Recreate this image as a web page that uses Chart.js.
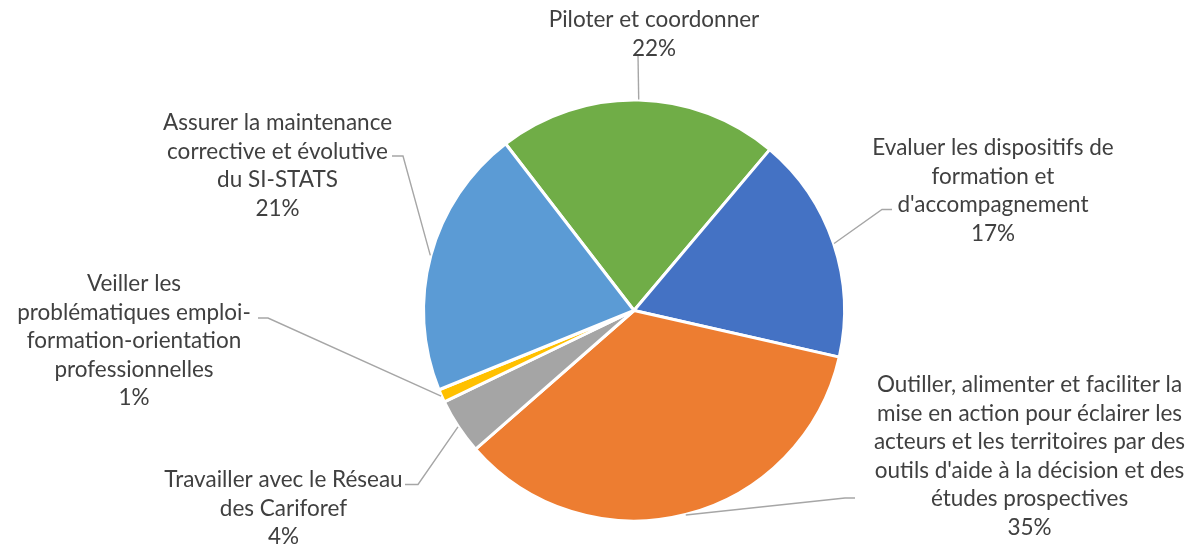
<!DOCTYPE html>
<html>
<head>
<meta charset="utf-8">
<script src="https://cdn.jsdelivr.net/npm/chart.js@4.4.1/dist/chart.umd.min.js"></script>
<style>
  html, body { margin: 0; padding: 0; background: #ffffff; }
  #wrap { width: 1191px; height: 548px; }
</style>
</head>
<body>
<div id="wrap"><canvas id="c" width="1191" height="548"></canvas></div>
<script>
// ---- Data ----
const categories = [
  ["Piloter et coordonner"],
  ["Evaluer les dispositifs de", "formation et", "d'accompagnement"],
  ["Outiller, alimenter et faciliter la", "mise en action pour éclairer les", "acteurs et les territoires par des", "outils d'aide à la décision et des", "études prospectives"],
  ["Travailler avec le Réseau", "des Cariforef"],
  ["Veiller les", "problématiques emploi-", "formation-orientation", "professionnelles"],
  ["Assurer la maintenance", "corrective et évolutive", "du SI-STATS"]
];
const shares = [21.6, 17.4, 35.0, 4.3, 1.0, 20.7];
const sliceColors = ["#70AD47", "#4472C4", "#ED7D31", "#A5A5A5", "#FFC000", "#5B9BD5"];

// ---- Label layout (offsets from pie centre, px) ----
// text: centre x / first baseline; leader: label-side point then elbow point
const labelLayout = [
  { tx: 20,     ty: -283.5, lead: [[4, -255.5]] },
  { tx: 359,    ty: -155.5, lead: [[258, -101], [248, -101]] },
  { tx: 395.5,  ty: 81.5,   lead: [[221, 187.5], [211, 187.5]] },
  { tx: -350.5, ty: 176.5,  lead: [[-229, 174], [-216, 174]] },
  { tx: -500,   ty: -19.5,  lead: [[-376, 7.5], [-366, 7.5]] },
  { tx: -356.5, ty: -180.5, lead: [[-242, -154.5], [-231, -154.5]] }
];
const LINE_H = 28.5;
const FONT = '22.5px Lato, "Open Sans", sans-serif';

const outsideLabels = {
  id: 'outsideLabels',
  afterDatasetsDraw(chart) {
    const ctx = chart.ctx;
    const meta = chart.getDatasetMeta(0);
    const data = chart.data.datasets[0].data;
    const total = data.reduce((a, b) => a + b, 0);
    ctx.save();
    meta.data.forEach((arc, i) => {
      const p = arc.getProps(['x', 'y', 'startAngle', 'endAngle', 'outerRadius'], true);
      const cx = p.x, cy = p.y;
      const mid = (p.startAngle + p.endAngle) / 2;
      const ex = cx + (p.outerRadius + 0.5) * Math.cos(mid);
      const ey = cy + (p.outerRadius + 0.5) * Math.sin(mid);
      const L = labelLayout[i];
      // leader line
      ctx.beginPath();
      ctx.strokeStyle = '#A6A6A6';
      ctx.lineWidth = 1.4;
      L.lead.forEach((pt, k) => {
        const x = cx + pt[0], y = cy + pt[1];
        if (k === 0) ctx.moveTo(x, y); else ctx.lineTo(x, y);
      });
      ctx.lineTo(ex, ey);
      ctx.stroke();
      // text
      ctx.font = FONT;
      ctx.fillStyle = '#404040';
      ctx.textAlign = 'center';
      ctx.textBaseline = 'alphabetic';
      const lines = chart.data.labels[i].concat([Math.round(data[i] / total * 100) + '%']);
      lines.forEach((t, k) => {
        ctx.fillText(t, cx + L.tx, cy + L.ty + k * LINE_H);
      });
    });
    ctx.restore();
  }
};

new Chart(document.getElementById('c'), {
  type: 'pie',
  data: {
    labels: categories,
    datasets: [{
      data: shares,
      backgroundColor: sliceColors,
      borderColor: '#ffffff',
      borderWidth: 3,
      hoverOffset: 0
    }]
  },
  options: {
    responsive: false,
    devicePixelRatio: 1,
    animation: false,
    rotation: -37.6,
    radius: 210.5,
    layout: { padding: { top: 100, bottom: 27, left: 100, right: 23 } },
    plugins: {
      legend: { display: false },
      tooltip: { enabled: false }
    }
  },
  plugins: [outsideLabels]
});
</script>
</body>
</html>
